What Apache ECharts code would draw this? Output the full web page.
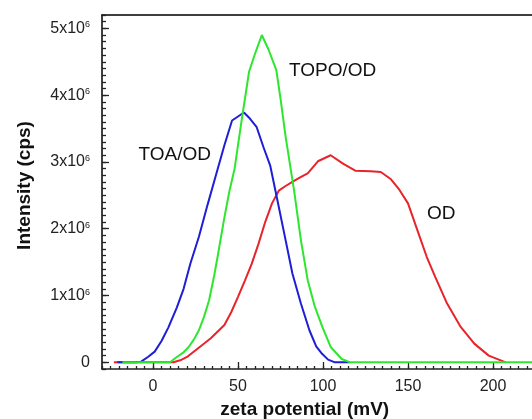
<!DOCTYPE html>
<html>
<head>
<meta charset="utf-8">
<script src="https://cdn.jsdelivr.net/npm/echarts@6/dist/echarts.min.js"></script>
<style>html,body{margin:0;padding:0;background:#fff;}#c{width:532px;height:419px;}</style>
</head>
<body>
<div id="c"></div>
<script>
// zeta potential (mV) and intensity (in units of 10^6 cps)
var odX = [-23,-15,-5,5,12,16,20,26,34,42,46,50,54,58,62,66,70,74,78,82,86,91,97,104.5,112,119,128,134,140,145,150,155.5,161,166,173,181,189,197.5,207.5];
var odY = [0,0,0,0,0,0.03,0.08,0.2,0.36,0.56,0.75,0.98,1.22,1.47,1.77,2.1,2.38,2.57,2.64,2.7,2.76,2.83,3.01,3.1,2.97,2.87,2.86,2.85,2.74,2.58,2.38,1.98,1.58,1.28,0.88,0.53,0.28,0.1,0];
var toaX = [-21,-15,-10,-7,-3,1,5,9,14,18,22,27,32,37,42,46.5,50,53.5,57,61,65,69,73,78,82,87,92,96,99,103,107,116];
var toaY = [0,0,0,0.01,0.08,0.16,0.32,0.52,0.82,1.1,1.48,1.88,2.35,2.8,3.25,3.62,3.68,3.74,3.65,3.52,3.22,2.94,2.45,1.83,1.33,0.88,0.48,0.24,0.14,0.04,0,0];
var topoX = [-18,-10,0,5,10,14,18,21,24,27,30,33,36,38,42,45,48,52,56.5,60,64,68,72.5,75,78,83,87,91,95,99.6,104.5,111,116,130,150,175,200,225];
var topoY = [0,0,0,0,0,0.08,0.15,0.23,0.34,0.48,0.68,0.93,1.3,1.58,2.17,2.57,2.9,3.6,4.35,4.62,4.9,4.68,4.38,3.95,3.38,2.57,1.83,1.23,0.85,0.53,0.23,0.05,0,0,0,0,0,0];
var xTicks = [0,50,100,150,200];
var yTicks = [0,1,2,3,4,5];
var seriesNames = ['OD','TOA/OD','TOPO/OD'];

var SCALE = 1e6;
function pairs(xs, ys){ return xs.map(function(x,i){ return [x, ys[i]*SCALE]; }); }

var FONT = "'Liberation Sans', Arial, sans-serif";
var chart = echarts.init(document.getElementById('c'), null, {renderer:'canvas'});

function annot(text, x, y){
  return {
    symbol:'circle', symbolSize:1, silent:true, animation:false,
    itemStyle:{color:'rgba(0,0,0,0)'},
    label:{show:true, position:'inside', formatter:text, fontSize:19, color:'#111', fontFamily:FONT},
    data:[{coord:[x, y*SCALE]}]
  };
}
var CLEAR = 'rgba(0,0,0,0)';
var TICK = '#222';
var yMajor = yTicks.map(function(v){return v*SCALE;});

var option = {
  animation:false,
  backgroundColor:'#fff',
  grid:{left:102, top:15, width:433.5, height:354, outerBoundsMode:'none'},
  xAxis:[
    {type:'value', position:'bottom', min:-30, max:225, interval:5,
     axisLine:{show:true, onZero:false, lineStyle:{color:'#222', width:1.5}},
     axisTick:{show:true, inside:true, length:3, lineStyle:{color:TICK, width:1.3}},
     axisLabel:{show:false}, splitLine:{show:false}},
    {type:'value', position:'bottom', min:-30, max:225,
     axisLine:{show:true, onZero:false, lineStyle:{color:CLEAR}},
     axisTick:{show:true, inside:true, length:7, customValues:xTicks, lineStyle:{color:TICK, width:1.3}},
     axisLabel:{show:true, customValues:xTicks, margin:10, fontSize:16, color:'#222', fontFamily:FONT},
     splitLine:{show:false},
     name:'zeta potential (mV)', nameLocation:'middle', nameGap:26,
     nameTextStyle:{fontSize:19, fontWeight:'bold', color:'#111', fontFamily:FONT, padding:[0,28,0,0]}},
    {type:'value', position:'top', min:-30, max:225,
     axisLine:{show:true, onZero:false, lineStyle:{color:'#000', width:1.5}},
     axisTick:{show:false}, axisLabel:{show:false}, splitLine:{show:false}}
  ],
  yAxis:[
    {type:'value', position:'left', min:-100000, max:5200000, interval:100000,
     axisLine:{show:true, onZero:false, lineStyle:{color:'#000', width:1.5}},
     axisTick:{show:true, inside:true, length:4, lineStyle:{color:TICK, width:1.3}},
     axisLabel:{show:false}, splitLine:{show:false}},
    {type:'value', position:'left', min:-100000, max:5200000,
     axisLine:{show:true, onZero:false, lineStyle:{color:CLEAR}},
     axisTick:{show:true, inside:true, length:7, customValues:yMajor, lineStyle:{color:TICK, width:1.3}},
     axisLabel:{show:true, customValues:yMajor, margin:12, color:'#222', fontFamily:FONT,
       formatter:function(v){ var n=Math.round(v/SCALE); return n===0 ? '{a|0}' : '{a|'+n+'x10}{s|6}'; },
       rich:{a:{fontSize:16, color:'#222', fontFamily:FONT}, s:{fontSize:9, color:'#222', fontFamily:FONT, verticalAlign:'top'}}},
     splitLine:{show:false},
     name:'Intensity (cps)', nameLocation:'middle', nameGap:68,
     nameTextStyle:{fontSize:19, fontWeight:'bold', color:'#111', fontFamily:FONT, padding:[0,0,0,13]}}
  ],
  series:[
    {name:seriesNames[0], type:'line', xAxisIndex:0, yAxisIndex:0, data:pairs(odX, odY), showSymbol:false, symbol:'none',
     lineStyle:{color:'#e8232a', width:2}, markPoint:annot('OD', 169.5, 2.22)},
    {name:seriesNames[1], type:'line', xAxisIndex:0, yAxisIndex:0, data:pairs(toaX, toaY), showSymbol:false, symbol:'none',
     lineStyle:{color:'#1e1ed6', width:2}, markPoint:annot('TOA/OD', 12.8, 3.11)},
    {name:seriesNames[2], type:'line', xAxisIndex:0, yAxisIndex:0, data:pairs(topoX, topoY), showSymbol:false, symbol:'none',
     lineStyle:{color:'#2ee62e', width:2}, markPoint:annot('TOPO/OD', 105.7, 4.36)}
  ]
};
chart.setOption(option);
</script>
</body>
</html>
